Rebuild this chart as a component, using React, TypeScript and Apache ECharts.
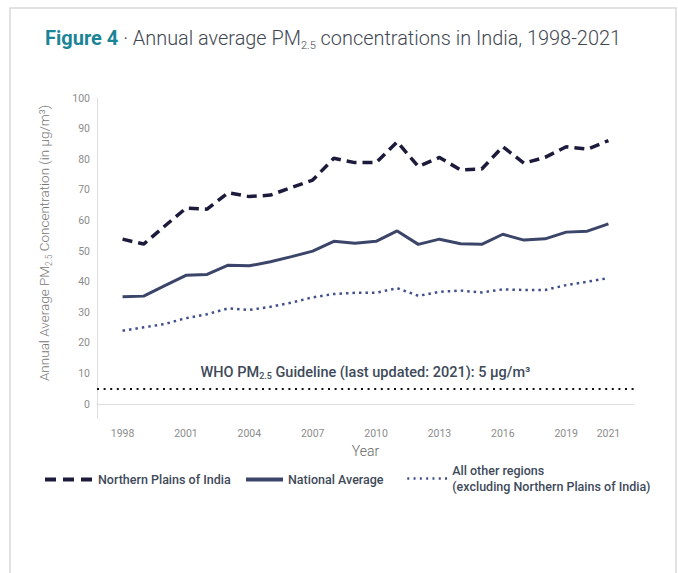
import React, { useEffect, useRef } from "react";
import * as echarts from "echarts";

const years = [1998, 1999, 2000, 2001, 2002, 2003, 2004, 2005, 2006, 2007, 2008, 2009, 2010, 2011, 2012, 2013, 2014, 2015, 2016, 2017, 2018, 2019, 2020, 2021];
const northernPlains = [53.9, 52.3, 58.2, 64.0, 63.7, 69.1, 67.8, 68.3, 70.8, 73.2, 80.3, 78.9, 78.9, 85.7, 77.6, 80.6, 76.5, 76.8, 84.1, 78.7, 80.6, 84.1, 83.3, 86.1];
const nationalAverage = [35.1, 35.3, 38.7, 42.1, 42.4, 45.4, 45.2, 46.5, 48.2, 50.0, 53.2, 52.6, 53.2, 56.6, 52.2, 53.9, 52.4, 52.2, 55.5, 53.6, 54.0, 56.2, 56.5, 58.9];
const otherRegions = [24.0, 25.1, 26.2, 28.1, 29.4, 31.3, 30.8, 31.8, 33.2, 34.9, 36.0, 36.4, 36.4, 37.9, 35.4, 36.7, 37.1, 36.5, 37.5, 37.3, 37.3, 38.9, 40.0, 41.2];
const yearTicks = [1998, 2001, 2004, 2007, 2010, 2013, 2016, 2019, 2021];
const valueTicks = [0, 10, 20, 30, 40, 50, 60, 70, 80, 90, 100];
const whoGuideline = 5;

const seriesNames = ["Northern Plains of India", "National Average", "All other regions"];
const legendLabels = ["Northern Plains of India", "National Average", "All other regions\n(excluding Northern Plains of India)"];

const FONT = "Roboto, 'Liberation Sans', Arial, sans-serif";
const C_DASH = "#1c1b3b";
const C_SOLID = "#3a4569";
const C_DOT = "#41508a";
const C_TEXT = "#3e4a5a";

export default function App() {
  const ref = useRef<HTMLDivElement>(null);
  useEffect(() => {
    const chart = echarts.init(ref.current!, null, { renderer: "svg" });
    const pair = (arr: number[]) => years.map((y, i) => [y, arr[i]]);
    const legendText = {
      fontFamily: FONT,
      fontSize: 12.5,
      fontWeight: 500,
      color: C_TEXT,
      lineHeight: 16,
    };
    const hiddenSymbol = { opacity: 0, borderWidth: 0, color: "transparent" };
    chart.setOption({
      animation: false,
      backgroundColor: "#ffffff",
      textStyle: { fontFamily: FONT },
      title: {
        left: 45,
        top: 25,
        padding: 0,
        text: "{f|Figure 4}{t| · Annual average PM}{s|2.5}{t| concentrations in India, 1998-2021}",
        textStyle: {
          rich: {
            f: { fontFamily: FONT, fontSize: 20, fontWeight: "bold", color: "#1b8597", lineHeight: 26 },
            t: { fontFamily: FONT, fontSize: 19.9, fontWeight: 300, color: "#3f4752", lineHeight: 26 },
            s: { fontFamily: FONT, fontSize: 11, fontWeight: 300, color: "#3f4752", lineHeight: 11, verticalAlign: "bottom" },
          },
        },
      },
      graphic: [
        {
          type: "rect",
          silent: true,
          z: -10,
          shape: { x: 10, y: 8, width: 666, height: 620 },
          style: { fill: "none", stroke: "#d9d9d9", lineWidth: 1.5 },
        },
      ],
      legend: [
        {
          data: [seriesNames[0]],
          formatter: () => legendLabels[0],
          left: 43,
          top: 471.5,
          padding: 0,
          itemWidth: 48,
          itemHeight: 10,
          textStyle: legendText,
          itemStyle: hiddenSymbol,
          lineStyle: { color: C_DASH, width: 4, type: [11, 7] },
          selectedMode: false,
        },
        {
          data: [seriesNames[1]],
          formatter: () => legendLabels[1],
          left: 244,
          top: 471.5,
          padding: 0,
          itemWidth: 37,
          itemHeight: 10,
          textStyle: legendText,
          itemStyle: hiddenSymbol,
          lineStyle: { color: C_SOLID, width: 4, type: "solid" },
          selectedMode: false,
        },
        {
          data: [seriesNames[2]],
          formatter: () => legendLabels[2],
          left: 406,
          top: 462.5,
          padding: 0,
          itemWidth: 40,
          itemHeight: 10,
          textStyle: legendText,
          itemStyle: hiddenSymbol,
          lineStyle: { color: C_DOT, width: 2.5, type: [2, 4.3] },
          selectedMode: false,
        },
      ],
      grid: { left: 97, right: 44, top: 98, bottom: 155, containLabel: false, outerBoundsMode: "none" },
      xAxis: {
        type: "value",
        min: 1996.79,
        max: 2022.21,
        name: "Year",
        nameLocation: "middle",
        nameGap: 22,
        nameTextStyle: { fontFamily: FONT, fontSize: 14, fontWeight: 300, color: "#666666" },
        axisLine: { show: true, lineStyle: { color: "#dddddd", width: 1 } },
        axisTick: { show: false },
        splitLine: { show: false },
        axisLabel: {
          customValues: yearTicks,
          formatter: (v: number) => String(v),
          margin: 10,
          fontFamily: FONT,
          fontSize: 10.5,
          color: "#8c8c8c",
        },
      },
      yAxis: {
        type: "value",
        min: -4.5,
        max: 100,
        name: "{a|Annual Average PM}{s|2.5}{a| Concentration (in µg/m³)}",
        nameLocation: "middle",
        nameRotate: 90,
        nameGap: 44,
        nameTextStyle: {
          padding: [0, 0, 0, 30],
          rich: {
            a: { fontFamily: FONT, fontSize: 13.5, fontWeight: 300, color: "#777777", lineHeight: 18 },
            s: { fontFamily: FONT, fontSize: 8.5, fontWeight: 300, color: "#777777", lineHeight: 9, verticalAlign: "bottom" },
          },
        },
        axisLine: { show: true, lineStyle: { color: "#dddddd", width: 1 } },
        axisTick: { show: false },
        splitLine: { show: false },
        axisLabel: {
          customValues: valueTicks,
          margin: 7,
          fontFamily: FONT,
          fontSize: 10.5,
          color: "#8c8c8c",
        },
      },
      series: [
        {
          name: seriesNames[0],
          type: "line",
          data: pair(northernPlains),
          symbol: "none",
          z: 4,
          lineStyle: { color: C_DASH, width: 3.5, type: [10, 6] },
          itemStyle: { color: C_DASH },
          emphasis: { disabled: true },
        },
        {
          name: seriesNames[1],
          type: "line",
          data: pair(nationalAverage),
          symbol: "none",
          z: 3,
          lineStyle: { color: C_SOLID, width: 3, type: "solid" },
          itemStyle: { color: C_SOLID },
          emphasis: { disabled: true },
          markLine: {
            silent: true,
            symbol: ["none", "none"],
            data: [{ yAxis: whoGuideline }],
            lineStyle: { color: "#111111", width: 2, type: [2, 4.6] },
            emphasis: { disabled: true },
            label: {
              show: true,
              position: "middle",
              distance: 8,
              formatter: "{a|WHO PM}{s|2.5}{a| Guideline (last updated: 2021): 5 µg/m³}",
              rich: {
                a: { fontFamily: FONT, fontSize: 14.5, fontWeight: 500, color: C_TEXT, lineHeight: 17 },
                s: { fontFamily: FONT, fontSize: 9, fontWeight: 500, color: C_TEXT, lineHeight: 9, verticalAlign: "bottom" },
              },
            },
          },
        },
        {
          name: seriesNames[2],
          type: "line",
          data: pair(otherRegions),
          symbol: "none",
          z: 2,
          lineStyle: { color: C_DOT, width: 2.5, type: [2.5, 4] },
          itemStyle: { color: C_DOT },
          emphasis: { disabled: true },
        },
      ],
    });
    return () => chart.dispose();
  }, []);
  return <div ref={ref} style={{ position: "absolute", left: 0, top: 0, width: 678, height: 573 }} />;
}
